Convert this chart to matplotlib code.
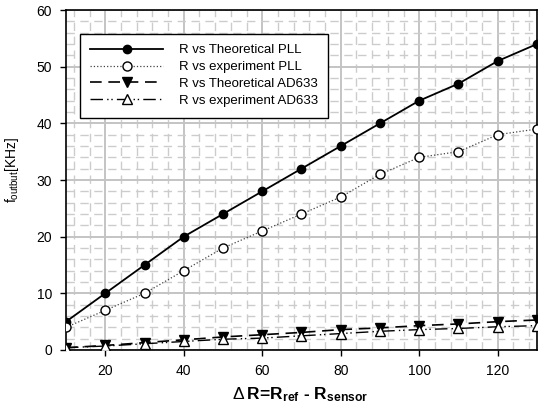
import numpy as np
import matplotlib
matplotlib.use("Agg")
import matplotlib.pyplot as plt
from matplotlib.ticker import MultipleLocator

plt.rcParams["font.family"] = ["Liberation Sans", "DejaVu Sans"]
plt.rcParams["mathtext.fontset"] = "custom"
plt.rcParams["mathtext.rm"] = "Liberation Sans"
plt.rcParams["mathtext.it"] = "Liberation Sans"
plt.rcParams["mathtext.bf"] = "Liberation Sans:bold"

# data
delta_r = [10, 20, 30, 40, 50, 60, 70, 80, 90, 100, 110, 120, 130]
theo_pll = [5, 10, 15, 20, 24, 28, 32, 36, 40, 44, 47, 51, 54]
exp_pll = [4, 7, 10, 14, 18, 21, 24, 27, 31, 34, 35, 38, 39]
theo_ad633 = [0.4, 0.8, 1.3, 1.8, 2.3, 2.7, 3.1, 3.6, 3.9, 4.3, 4.6, 5.0, 5.3]
exp_ad633 = [0.4, 0.7, 1.1, 1.5, 1.9, 2.1, 2.5, 2.9, 3.3, 3.6, 3.8, 4.1, 4.3]

fig = plt.figure(figsize=(5.41, 4.12), dpi=100)
ax = fig.add_axes([0.122, 0.1505, 0.8706, 0.8252])

ax.plot(delta_r, theo_pll, "-", color="black", lw=1.3, marker="o", ms=6,
        mfc="black", mec="black", label="R vs Theoretical PLL", zorder=5)
ax.plot(delta_r, exp_pll, ":", color="#444444", lw=0.9, marker="o", ms=6.5,
        mfc="white", mec="black", mew=1.0, label="R vs experiment PLL", zorder=5)
ax.plot(delta_r, theo_ad633, color="black", lw=1.2, ls=(0, (7, 4)), marker="v",
        ms=6.5, mfc="black", mec="black", label="R vs Theoretical AD633", zorder=5)
ax.plot(delta_r, exp_ad633, color="black", lw=1.0, ls=(0, (9, 3, 1, 2, 1, 3)),
        marker="^", ms=6.5, mfc="white", mec="black", mew=1.0,
        label="R vs experiment AD633", zorder=5)

ax.set_xlim(10, 130)
ax.set_ylim(0, 60)
ax.xaxis.set_minor_locator(MultipleLocator(4))
ax.yaxis.set_major_locator(MultipleLocator(10))
ax.yaxis.set_minor_locator(MultipleLocator(2))
ax.set_xticks([20, 40, 60, 80, 100, 120])

ax.grid(which="major", color="#c4c4c4", lw=1.4, zorder=0)
ax.grid(which="minor", color="#cccccc", lw=1.0, ls=(0, (6, 4)), zorder=0)
ax.set_axisbelow(True)

ax.tick_params(which="major", direction="out", length=4, width=1,
               labelsize=10, pad=6)
ax.tick_params(which="minor", length=0)
for s in ax.spines.values():
    s.set_color("black")
    s.set_linewidth(1.2)

ax.set_ylabel(r"f$_{\mathrm{outbut}}$[KHz]", fontsize=10)
ax.yaxis.set_label_coords(-0.095, 0.53)

# x label placed by hand so the subscripts stay inside the figure
fig.text(0.555, 0.03,
         r"$\mathrm{\Delta}\,\mathbf{R\!=\!R_{ref}}$ "
         "\u2010 "
         r"$\mathbf{R_{sensor}}$",
         ha="center", va="baseline", fontsize=12.5, fontweight="bold")

leg = ax.legend(loc="upper left", bbox_to_anchor=(0.015, 0.95), fontsize=9.5,
                handlelength=5.5, fancybox=False, framealpha=1,
                edgecolor="black", borderpad=0.8, labelspacing=0.35,
                handletextpad=1.2)
leg.get_frame().set_linewidth(1.0)

fig.savefig("out.png", dpi=100)
